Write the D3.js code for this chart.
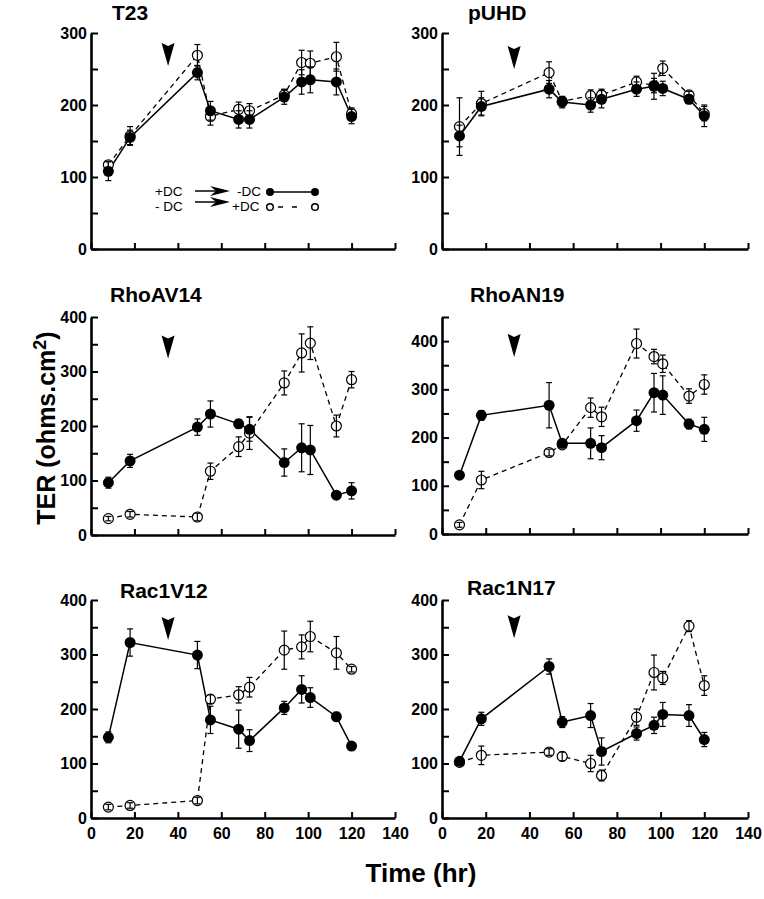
<!DOCTYPE html>
<html><head><meta charset="utf-8">
<script src="https://cdn.jsdelivr.net/npm/d3@7"></script>
<style>
body{margin:0;background:#fff}
svg{display:block}
text{font-family:"Liberation Sans",Arial,Helvetica,sans-serif;fill:#000}
</style>
</head><body><svg id="c" width="764" height="899"></svg>
<script>
// ---------- data ----------
const times = [8, 18, 49, 55, 68, 73, 89, 97, 101, 113, 120];
const panelNames = ["T23", "pUHD", "RhoAV14", "RhoAN19", "Rac1V12", "Rac1N17"];
const xTickValues = [0, 20, 40, 60, 80, 100, 120, 140];
const yMaxValues = [300, 300, 400, 450, 400, 400];

const t23Solid      = [108, 155, 245, 192, 180, 180, 211, 232, 235, 232, 184];
const t23SolidErr   = [13, 10, 10, 13, 12, 12, 10, 17, 18, 18, 10];
const t23Open       = [117, 157, 269, 184, 194, 192, 214, 259, 258, 267, 188];
const t23OpenErr    = [5, 13, 15, 12, 10, 10, 8, 17, 17, 20, 8];

const puhdSolid     = [157, 198, 222, 204, 200, 208, 222, 226, 223, 208, 185];
const puhdSolidErr  = [15, 12, 12, 8, 10, 12, 10, 18, 10, 6, 15];
const puhdOpen      = [170, 202, 245, 205, 213, 214, 232, 227, 251, 214, 188];
const puhdOpenErr   = [40, 17, 15, 6, 8, 8, 8, 10, 10, 5, 10];

const rhoV14Solid    = [96, 136, 198, 222, 204, 194, 133, 160, 156, 73, 81];
const rhoV14SolidErr = [10, 12, 15, 24, 8, 22, 25, 44, 45, 6, 15];
const rhoV14Open     = [30, 38, 33, 117, 162, 187, 279, 334, 352, 200, 285];
const rhoV14OpenErr  = [4, 5, 7, 15, 18, 30, 22, 35, 30, 20, 15];

const rhoN19Solid    = [122, 246, 267, 188, 188, 179, 235, 293, 288, 228, 217];
const rhoN19SolidErr = [5, 10, 47, 8, 32, 25, 22, 40, 40, 10, 25];
const rhoN19Open     = [19, 112, 169, 185, 262, 243, 395, 368, 353, 286, 310];
const rhoN19OpenErr  = [5, 18, 7, 6, 20, 20, 30, 15, 18, 15, 20];

const racV12Solid    = [148, 322, 299, 180, 163, 142, 202, 236, 221, 186, 132];
const racV12SolidErr = [10, 25, 25, 25, 35, 20, 12, 25, 18, 8, 4];
const racV12Open     = [20, 23, 32, 218, 226, 240, 308, 314, 333, 303, 273];
const racV12OpenErr  = [5, 5, 6, 8, 15, 18, 35, 22, 28, 30, 5];

const racN17Solid    = [104, 182, 278, 176, 188, 122, 155, 170, 190, 188, 144];
const racN17SolidErr = [6, 12, 14, 10, 22, 25, 12, 15, 22, 20, 13];
const racN17Open     = [102, 115, 121, 113, 100, 78, 185, 267, 257, 352, 243];
const racN17OpenErr  = [4, 17, 6, 8, 15, 10, 15, 32, 12, 10, 18];

const arrowTimes  = [35.5, 33, 35.5, 33, 35.5, 33];
const arrowValues = [286, 282, 366, 415, 369, 372];

const solidSeries = [t23Solid, puhdSolid, rhoV14Solid, rhoN19Solid, racV12Solid, racN17Solid];
const solidErrs   = [t23SolidErr, puhdSolidErr, rhoV14SolidErr, rhoN19SolidErr, racV12SolidErr, racN17SolidErr];
const openSeries  = [t23Open, puhdOpen, rhoV14Open, rhoN19Open, racV12Open, racN17Open];
const openErrs    = [t23OpenErr, puhdOpenErr, rhoV14OpenErr, rhoN19OpenErr, racV12OpenErr, racN17OpenErr];

// ---------- layout ----------
const layout = [
  {x0: 91,  x1: 395, y0: 249, y1: 33,  tx: 112, ty: 20,  bottom: false},
  {x0: 442, x1: 748, y0: 249, y1: 33,  tx: 468, ty: 20,  bottom: false},
  {x0: 91,  x1: 395, y0: 535, y1: 317, tx: 110, ty: 302, bottom: false},
  {x0: 442, x1: 748, y0: 534, y1: 317, tx: 470, ty: 302, bottom: false},
  {x0: 91,  x1: 395, y0: 818, y1: 600, tx: 120, ty: 598, bottom: true},
  {x0: 442, x1: 748, y0: 818, y1: 600, tx: 467, ty: 595, bottom: true}
];

const svg = d3.select("#c");

panelNames.forEach((name, i) => {
  const L = layout[i];
  const x = d3.scaleLinear().domain([0, 140]).range([L.x0, L.x1]);
  const y = d3.scaleLinear().domain([0, yMaxValues[i]]).range([L.y0, L.y1]);
  const g = svg.append("g");

  // title
  g.append("text").attr("x", L.tx).attr("y", L.ty)
    .style("font-size", "21px").style("font-weight", "bold").text(name);

  // y axis
  const yAxis = d3.axisLeft(y)
    .tickValues(d3.range(0, yMaxValues[i] + 1, 50))
    .tickSizeInner(-7).tickSizeOuter(0).tickPadding(4)
    .tickFormat(d => d % 100 === 0 ? d : "");
  const ya = g.append("g").attr("transform", `translate(${L.x0},0)`).call(yAxis);
  ya.select(".domain").attr("stroke-width", 2.6).attr("stroke", "#000");
  ya.selectAll(".tick line").attr("stroke-width", 2).attr("stroke", "#000");
  ya.selectAll("text").style("font-size", "16px").style("font-weight", "bold").attr("fill", "#000");

  // x axis
  const xAxis = d3.axisBottom(x)
    .tickValues(xTickValues)
    .tickSizeInner(-6).tickSizeOuter(0).tickPadding(10)
    .tickFormat(d => L.bottom ? d : "");
  const xa = g.append("g").attr("transform", `translate(0,${L.y0})`).call(xAxis);
  xa.select(".domain").attr("stroke-width", 2.6).attr("stroke", "#000");
  xa.selectAll(".tick line").attr("stroke-width", 2).attr("stroke", "#000");
  xa.selectAll("text").style("font-size", "16px").style("font-weight", "bold").attr("fill", "#000");

  // arrow marker (DC switch)
  const ax = x(arrowTimes[i]), ay = y(arrowValues[i]);
  g.append("path")
    .attr("d", `M${ax - 6.5},${ay} L${ax},${ay + 3} L${ax + 6.5},${ay} L${ax},${ay + 23} Z`)
    .attr("fill", "#000");

  const line = d3.line().x((d, k) => x(times[k])).y(d => y(d));

  // dashed (open) line
  g.append("path").datum(openSeries[i]).attr("d", line)
    .attr("fill", "none").attr("stroke", "#000").attr("stroke-width", 1.3)
    .attr("stroke-dasharray", "5,4");
  // solid line
  g.append("path").datum(solidSeries[i]).attr("d", line)
    .attr("fill", "none").attr("stroke", "#000").attr("stroke-width", 1.5);

  // open markers
  g.selectAll(".om").data(openSeries[i]).enter().append("circle")
    .attr("cx", (d, k) => x(times[k])).attr("cy", d => y(d)).attr("r", 5)
    .attr("fill", "#fff").attr("stroke", "#000").attr("stroke-width", 1.2);

  // error bars
  function errBars(vals, errs) {
    const eg = g.append("g").attr("stroke", "#000").attr("stroke-width", 1.2);
    vals.forEach((v, k) => {
      const cx = x(times[k]);
      const top = y(v + errs[k]), bot = y(v - errs[k]);
      eg.append("line").attr("x1", cx).attr("x2", cx).attr("y1", top).attr("y2", bot);
      eg.append("line").attr("x1", cx - 3).attr("x2", cx + 3).attr("y1", top).attr("y2", top);
      eg.append("line").attr("x1", cx - 3).attr("x2", cx + 3).attr("y1", bot).attr("y2", bot);
    });
  }
  errBars(openSeries[i], openErrs[i]);
  errBars(solidSeries[i], solidErrs[i]);

  // solid markers
  g.selectAll(".sm").data(solidSeries[i]).enter().append("circle")
    .attr("cx", (d, k) => x(times[k])).attr("cy", d => y(d)).attr("r", 5.5)
    .attr("fill", "#000");
});

// ---------- legend (in T23 panel) ----------
const lg = svg.append("g");
function legendArrow(x1, x2, yy) {
  lg.append("line").attr("x1", x1).attr("x2", x2 - 8).attr("y1", yy).attr("y2", yy)
    .attr("stroke", "#000").attr("stroke-width", 1.5);
  lg.append("path")
    .attr("d", `M${x2},${yy} L${x2 - 20},${yy - 5} L${x2 - 14},${yy} L${x2 - 20},${yy + 5} Z`)
    .attr("fill", "#000");
}
lg.append("text").attr("x", 155).attr("y", 196).style("font-size", "13.5px").text("+DC");
lg.append("text").attr("x", 237).attr("y", 196).style("font-size", "13.5px").text("-DC");
lg.append("text").attr("x", 155).attr("y", 211).style("font-size", "13.5px").text("- DC");
lg.append("text").attr("x", 232).attr("y", 211).style("font-size", "13.5px").text("+DC");
legendArrow(195, 230, 191);
legendArrow(195, 230, 202);
lg.append("line").attr("x1", 270).attr("x2", 315).attr("y1", 192).attr("y2", 192)
  .attr("stroke", "#000").attr("stroke-width", 1.5);
lg.append("circle").attr("cx", 270).attr("cy", 192).attr("r", 4).attr("fill", "#000");
lg.append("circle").attr("cx", 315).attr("cy", 192).attr("r", 4).attr("fill", "#000");
lg.append("line").attr("x1", 270).attr("x2", 315).attr("y1", 207).attr("y2", 207)
  .attr("stroke", "#000").attr("stroke-width", 1.5).attr("stroke-dasharray", "0,8,5,9,5,20");
lg.append("circle").attr("cx", 270).attr("cy", 207).attr("r", 3.3).attr("fill", "#fff")
  .attr("stroke", "#000").attr("stroke-width", 1.5);
lg.append("circle").attr("cx", 315).attr("cy", 207).attr("r", 3.3).attr("fill", "#fff")
  .attr("stroke", "#000").attr("stroke-width", 1.5);

// ---------- axis titles ----------
const yl = svg.append("text")
  .attr("transform", "translate(55,428) rotate(-90)")
  .attr("text-anchor", "middle")
  .style("font-size", "25px").style("font-weight", "bold");
yl.append("tspan").text("TER (ohms.cm");
yl.append("tspan").attr("dy", "-9").style("font-size", "18px").text("2");
yl.append("tspan").attr("dy", "9").text(")");

svg.append("text").attr("x", 421).attr("y", 882).attr("text-anchor", "middle")
  .style("font-size", "26px").style("font-weight", "bold").text("Time (hr)");
</script>
</body></html>
